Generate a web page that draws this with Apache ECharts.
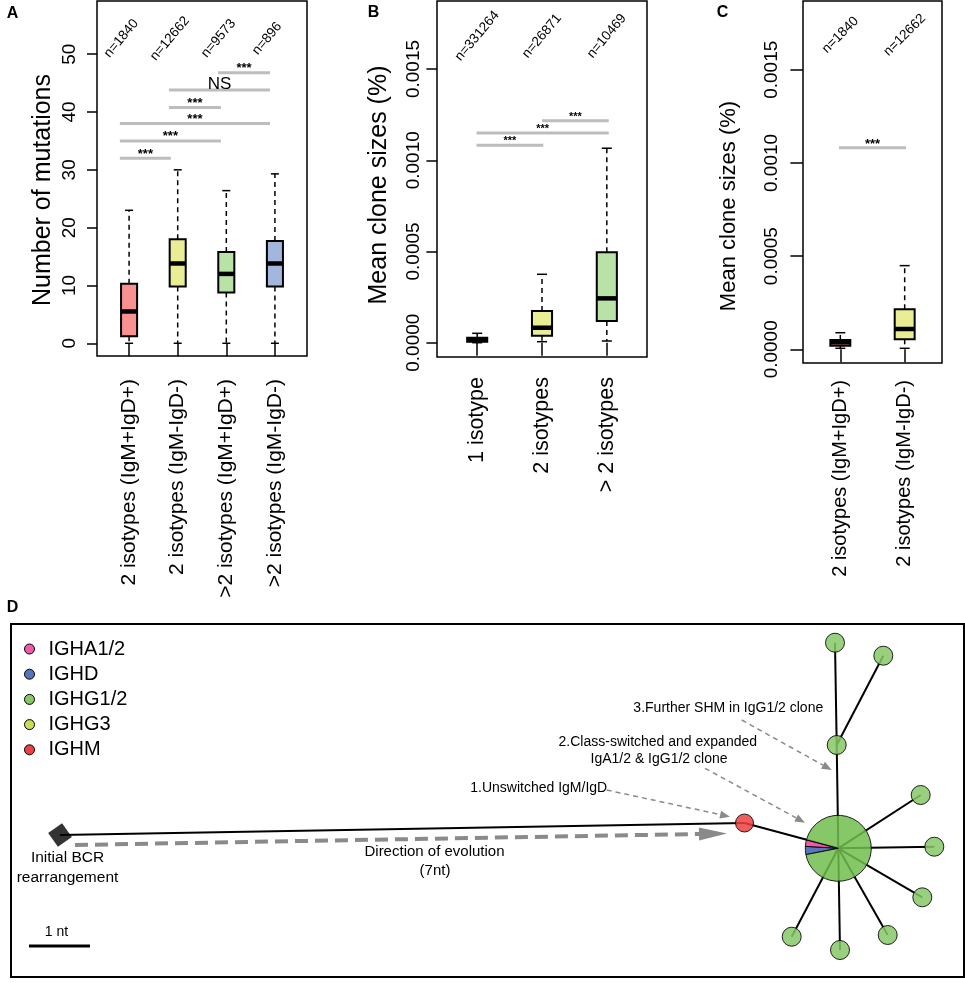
<!DOCTYPE html>
<html><head><meta charset="utf-8">
<script src="https://cdn.jsdelivr.net/npm/echarts@6/dist/echarts.min.js"></script>
<style>html,body{margin:0;padding:0;background:#fff}#c{width:965px;height:983px}</style>
</head><body><div id="c"></div>
<script>
// ---------------- Panel A: number of mutations ----------------
const catsA = ['2 isotypes (IgM+IgD+)', '2 isotypes (IgM-IgD-)', '>2 isotypes (IgM+IgD+)', '>2 isotypes (IgM-IgD-)'];
const nA = ['n=1840', 'n=12662', 'n=9573', 'n=896'];
const lowA = [0, 0, 0, 0];
const q1A = [1.2, 9.8, 8.8, 9.8];
const medA = [5.5, 13.8, 12.0, 13.8];
const q3A = [10.3, 18.0, 15.8, 17.7];
const highA = [23.0, 30.0, 26.4, 29.3];
const ticksA = [0, 10, 20, 30, 40, 50];
// significance bars: [from, to, y, label]
const sigA = [[0.81, 1.86, 32.0, '***'], [0.81, 2.89, 35.0, '***'], [0.81, 3.90, 38.0, '***'],
              [1.82, 2.89, 40.8, '***'], [1.82, 3.90, 43.8, 'NS'], [2.83, 3.90, 46.8, '***']];

// ---------------- Panel B: clone sizes by isotype count ----------------
const catsB = ['1 isotype', '2 isotypes', '> 2 isotypes'];
const nB = ['n=331264', 'n=26871', 'n=10469'];
const lowB = [0.0, 0.0000055, 0.0000093];
const q1B = [0.0000055, 0.0000384, 0.000119];
const medB = [0.000019, 0.000082, 0.000243];
const q3B = [0.0000274, 0.000174, 0.000496];
const highB = [0.0000515, 0.000375, 0.001066];
const ticksB = [0, 0.0005, 0.001, 0.0015];
const sigB = [[0.99, 2.02, 0.001082, '***'], [0.99, 3.03, 0.00115, '***'], [2.0, 3.03, 0.001217, '***']];

// ---------------- Panel C: clone sizes, 2 isotypes ----------------
const catsC = ['2 isotypes (IgM+IgD+)', '2 isotypes (IgM-IgD-)'];
const nC = ['n=1840', 'n=12662'];
const lowC = [0.0000054, 0.0000054];
const q1C = [0.0000193, 0.0000536];
const medC = [0.0000375, 0.000109];
const q3C = [0.00005, 0.000215];
const highC = [0.000089, 0.000449];
const ticksC = [0, 0.0005, 0.001, 0.0015];
const sigC = [[0.98, 2.02, 0.001082, '***']];

// ---------------- Panel D: clone lineage tree ----------------
const isoNames = ['IGHA1/2', 'IGHD', 'IGHG1/2', 'IGHG3', 'IGHM'];
const nodeX = [49, 733.5, 827.3, 825.7, 824, 872.3, 909.7, 923.3, 911.3, 876.7, 829, 780.7];
const nodeY = [211, 199, 224.3, 121, 18.7, 31.7, 171, 222.7, 273.3, 311, 326, 312.7];
const nodeIso = ['germline', 'IGHM', 'mixed', 'IGHG1/2', 'IGHG1/2', 'IGHG1/2', 'IGHG1/2', 'IGHG1/2', 'IGHG1/2', 'IGHG1/2', 'IGHG1/2', 'IGHG1/2'];
const nodeParent = [-1, 0, 1, 2, 3, 3, 2, 2, 2, 2, 2, 2];
const cloneIso = ['IGHD', 'IGHA1/2', 'IGHG1/2'];
const cloneShare = [0.04, 0.032, 0.928];

// ---------------- styling ----------------
const FONT = '"Liberation Sans", Arial, Helvetica, sans-serif';
const boxColA = ['#F79291', '#E9EE95', '#B9E3A6', '#A3B7DE'];
const boxColB = ['#F79291', '#E9EE95', '#B9E3A6'];
const boxColC = ['#F79291', '#E9EE95'];
const isoColors = {'IGHA1/2': '#EE5BA8', 'IGHD': '#5773BA', 'IGHG1/2': '#86C867', 'IGHG3': '#C8DC55', 'IGHM': '#EE4040'};
const cloneFill = {'IGHA1/2': '#EA3F9A', 'IGHD': '#3C5DB0', 'IGHG1/2': '#71BE4C'};

function boxRender(colors, boxW) {
  return function (params, api) {
    const x = api.value(0);
    const pLo = api.coord([x, api.value(1)]);
    const pQ1 = api.coord([x, api.value(2)]);
    const pMed = api.coord([x, api.value(3)]);
    const pQ3 = api.coord([x, api.value(4)]);
    const pHi = api.coord([x, api.value(5)]);
    const half = api.size([boxW, 0])[0] / 2;
    const cx = pMed[0], st = half / 2;
    const ls = {stroke: '#000', lineWidth: 1.5};
    return {type: 'group', children: [
      {type: 'line', shape: {x1: cx, y1: pQ3[1], x2: cx, y2: pHi[1]}, style: {stroke: '#000', lineWidth: 1.5, lineDash: [5, 4]}},
      {type: 'line', shape: {x1: cx, y1: pQ1[1], x2: cx, y2: pLo[1]}, style: {stroke: '#000', lineWidth: 1.5, lineDash: [5, 4]}},
      {type: 'line', shape: {x1: cx - st, y1: pHi[1], x2: cx + st, y2: pHi[1]}, style: ls},
      {type: 'line', shape: {x1: cx - st, y1: pLo[1], x2: cx + st, y2: pLo[1]}, style: ls},
      {type: 'rect', shape: {x: cx - half, y: pQ3[1], width: 2 * half, height: pQ1[1] - pQ3[1]}, style: {fill: colors[params.dataIndex], stroke: '#000', lineWidth: 2}},
      {type: 'line', shape: {x1: cx - half, y1: pMed[1], x2: cx + half, y2: pMed[1]}, style: {stroke: '#000', lineWidth: 4.5}}
    ]};
  };
}
function boxData(low, q1, med, q3, high) {
  return low.map((v, i) => [i + 1, low[i], q1[i], med[i], q3[i], high[i]]);
}
function sigRender(sig, cfg) {
  return function (params, api) {
    const s = sig[params.dataIndex];
    const a = api.coord([s[0], s[2]]), b = api.coord([s[1], s[2]]);
    const ns = s[3] === 'NS';
    return {type: 'group', children: [
      {type: 'line', shape: {x1: a[0], y1: a[1], x2: b[0], y2: b[1]}, style: {stroke: '#BDBDBD', lineWidth: 3}},
      {type: 'text', x: (a[0] + b[0]) / 2, y: a[1] - (ns ? 6 : cfg.dy), style: {text: s[3], fill: '#000', fontSize: ns ? 17 : cfg.fs, fontWeight: ns ? 'normal' : 'bold', fontFamily: FONT, align: 'center', verticalAlign: 'middle'}}
    ]};
  };
}
function nRender(labels, dx, yv, rot, fs) {
  return function (params, api) {
    const p = api.coord([params.dataIndex + 1 + dx, yv]);
    return {type: 'text', x: p[0], y: p[1], rotation: rot * Math.PI / 180,
      style: {text: labels[params.dataIndex], fill: '#000', fontSize: fs, fontFamily: FONT, align: 'center', verticalAlign: 'middle'}};
  };
}
function xAx(gi, min, max, cats, margin, tickLen, fs) {
  const cv = cats.map((c, i) => i + 1);
  return {gridIndex: gi, type: 'value', min: min, max: max, axisLine: {show: false}, splitLine: {show: false},
    axisTick: {show: true, customValues: cv, length: tickLen, lineStyle: {color: '#000', width: 1.5}},
    axisLabel: {show: true, customValues: cv, rotate: 90, margin: margin, color: '#000', fontSize: fs, fontFamily: FONT,
      formatter: v => cats[Math.round(v) - 1]}};
}
function yAx(gi, min, max, ticks, margin, tickLen, dec) {
  return {gridIndex: gi, type: 'value', min: min, max: max, axisLine: {show: false}, splitLine: {show: false},
    axisTick: {show: true, customValues: ticks, length: tickLen, lineStyle: {color: '#000', width: 1.5}},
    axisLabel: {show: true, customValues: ticks, rotate: 90, margin: margin, color: '#000', fontSize: 19, fontFamily: FONT,
      formatter: v => dec ? v.toFixed(dec) : String(v)}};
}

// Panel D helpers
const edgeIdx = nodeParent.map((p, i) => i).filter(i => nodeParent[i] >= 0);
const dLabels = [
  ['Initial BCR', 56.5, 234, 15.5], ['rearrangement', 56.5, 253.7, 15.5],
  ['Direction of evolution', 423.5, 227.7, 15], ['(7nt)', 424, 247, 15],
  ['1.Unswitched IgM/IgD', 527.7, 163.7, 14], ['2.Class-switched and expanded', 646.8, 117.7, 14],
  ['IgA1/2 & IgG1/2 clone', 648, 135, 14], ['3.Further SHM in IgG1/2 clone', 717.3, 84.3, 14],
  ['1 nt', 45.5, 307.7, 14]
];
const dArrows = [[64, 221, 716, 209.5, 1], [595.7, 166, 719, 192.7, 0], [694, 144.3, 794, 198.7, 0], [730.7, 96, 820.7, 146, 0]];
const scaleBar = [18, 79, 322];

const series = [
  // A
  {type: 'custom', xAxisIndex: 0, yAxisIndex: 0, renderItem: boxRender(boxColA, 0.33), data: boxData(lowA, q1A, medA, q3A, highA), z: 3},
  {type: 'custom', xAxisIndex: 0, yAxisIndex: 0, renderItem: sigRender(sigA, {fs: 13, dy: 4}), data: sigA.map(s => [s[0], s[2]]), z: 3},
  {type: 'custom', xAxisIndex: 0, yAxisIndex: 0, renderItem: nRender(nA, -0.16, 52.7, 50, 13.5), data: nA.map((n, i) => [i + 1, 52.7]), z: 3},
  // B
  {type: 'custom', xAxisIndex: 1, yAxisIndex: 1, renderItem: boxRender(boxColB, 0.31), data: boxData(lowB, q1B, medB, q3B, highB), z: 3},
  {type: 'custom', xAxisIndex: 1, yAxisIndex: 1, renderItem: sigRender(sigB, {fs: 11, dy: 4}), data: sigB.map(s => [s[0], s[2]]), z: 3},
  {type: 'custom', xAxisIndex: 1, yAxisIndex: 1, renderItem: nRender(nB, 0, 0.001681, 50, 13.5), data: nB.map((n, i) => [i + 1, 0.001681]), z: 3},
  // C
  {type: 'custom', xAxisIndex: 2, yAxisIndex: 2, renderItem: boxRender(boxColC, 0.31), data: boxData(lowC, q1C, medC, q3C, highC), z: 3},
  {type: 'custom', xAxisIndex: 2, yAxisIndex: 2, renderItem: sigRender(sigC, {fs: 13, dy: 3}), data: sigC.map(s => [s[0], s[2]]), z: 3},
  {type: 'custom', xAxisIndex: 2, yAxisIndex: 2, renderItem: nRender(nC, 0, 0.001686, 45, 13.5), data: nC.map((n, i) => [i + 1, 0.001686]), z: 3},
  // D edges
  {type: 'custom', xAxisIndex: 3, yAxisIndex: 3, z: 1, data: edgeIdx.map(i => [nodeX[i], nodeY[i]]),
    renderItem: function (params, api) {
      const i = edgeIdx[params.dataIndex], p = nodeParent[i];
      const a = api.coord([nodeX[p], nodeY[p]]), b = api.coord([nodeX[i], nodeY[i]]);
      return {type: 'line', shape: {x1: a[0], y1: a[1], x2: b[0], y2: b[1]}, style: {stroke: '#000', lineWidth: 2}};
    }},
  // D clone pie
  {type: 'custom', xAxisIndex: 3, yAxisIndex: 3, z: 2, data: [[nodeX[2], nodeY[2]]],
    renderItem: function (params, api) {
      const c = api.coord([api.value(0), api.value(1)]);
      const r = api.size([33, 0])[0];
      let ang = 169 * Math.PI / 180;
      const ch = cloneShare.map((s, k) => {
        const a0 = ang, a1 = ang + s * 2 * Math.PI; ang = a1;
        return {type: 'sector', shape: {cx: c[0], cy: c[1], r0: 0, r: r, startAngle: a0, endAngle: a1, clockwise: true},
          style: {fill: cloneFill[cloneIso[k]], stroke: '#000', lineWidth: 1, opacity: 0.85}};
      });
      return {type: 'group', children: ch};
    }},
  // D germline
  {type: 'scatter', name: 'germline', xAxisIndex: 3, yAxisIndex: 3, z: 3, symbol: 'rect', symbolSize: 17, symbolRotate: 35,
    itemStyle: {color: '#000'}, data: nodeIso.map((t, i) => t === 'germline' ? [nodeX[i], nodeY[i]] : null).filter(Boolean)},
  // D arrows
  {type: 'custom', xAxisIndex: 3, yAxisIndex: 3, z: 4, data: dArrows.map(a => [a[0], a[1]]),
    renderItem: function (params, api) {
      const d = dArrows[params.dataIndex];
      const a = api.coord([d[0], d[1]]), b = api.coord([d[2], d[3]]);
      const big = d[4] === 1;
      const hl = big ? 28 : 10, hw = big ? 6.5 : 4;
      const dx = b[0] - a[0], dy = b[1] - a[1], L = Math.hypot(dx, dy), ux = dx / L, uy = dy / L;
      const bx = b[0] - ux * hl, by = b[1] - uy * hl;
      return {type: 'group', children: [
        {type: 'line', shape: {x1: a[0], y1: a[1], x2: bx, y2: by}, style: {stroke: '#8A8A8A', lineWidth: big ? 4 : 1.5, lineDash: big ? [13, 7] : [5, 4]}},
        {type: 'polygon', shape: {points: [[b[0], b[1]], [bx - uy * hw, by + ux * hw], [bx + uy * hw, by - ux * hw]]}, style: {fill: '#8A8A8A'}}
      ]};
    }},
  // D labels
  {type: 'custom', xAxisIndex: 3, yAxisIndex: 3, z: 4, data: dLabels.map(l => [l[1], l[2]]),
    renderItem: function (params, api) {
      const l = dLabels[params.dataIndex];
      const p = api.coord([l[1], l[2]]);
      return {type: 'text', x: p[0], y: p[1], style: {text: l[0], fill: '#000', fontSize: l[3], fontFamily: FONT, align: 'center', verticalAlign: 'middle'}};
    }},
  // D scale bar
  {type: 'custom', xAxisIndex: 3, yAxisIndex: 3, z: 4, data: [[scaleBar[0], scaleBar[2]]],
    renderItem: function (params, api) {
      const a = api.coord([scaleBar[0], scaleBar[2]]), b = api.coord([scaleBar[1], scaleBar[2]]);
      return {type: 'line', shape: {x1: a[0], y1: a[1], x2: b[0], y2: b[1]}, style: {stroke: '#000', lineWidth: 3}};
    }}
];
// isotype node series (also drive the legend)
isoNames.forEach(name => {
  series.push({type: 'scatter', name: name, xAxisIndex: 3, yAxisIndex: 3, z: 5, symbol: 'circle', symbolSize: name === 'IGHM' ? 18 : 19,
    itemStyle: {color: isoColors[name], borderColor: '#000', borderWidth: 1, opacity: 0.85},
    data: nodeIso.map((t, i) => t === name ? [nodeX[i], nodeY[i]] : null).filter(Boolean)});
});

const titleTxt = (t, x, y, fs) => ({type: 'text', x: x, y: y, rotation: Math.PI / 2,
  style: {text: t, fill: '#000', fontSize: fs, fontFamily: FONT, align: 'center', verticalAlign: 'middle'}});
const letter = (t, x, y) => ({type: 'text', x: x, y: y,
  style: {text: t, fill: '#000', fontSize: 16, fontWeight: 'bold', fontFamily: FONT, align: 'center', verticalAlign: 'middle'}});

const option = {
  animation: false,
  backgroundColor: '#fff',
  grid: [
    {left: 97, top: 1, width: 210, height: 355, show: true, borderColor: '#000', borderWidth: 1.5, backgroundColor: 'transparent'},
    {left: 437, top: 1, width: 210, height: 356, show: true, borderColor: '#000', borderWidth: 1.5, backgroundColor: 'transparent'},
    {left: 803, top: 1, width: 139, height: 362, show: true, borderColor: '#000', borderWidth: 1.5, backgroundColor: 'transparent'},
    {left: 11, top: 624, width: 953, height: 353, show: true, borderColor: '#000', borderWidth: 2, backgroundColor: 'transparent'}
  ],
  xAxis: [
    xAx(0, 0.34, 4.66, catsA, 23, 13, 21),
    xAx(1, 0.38, 3.62, catsB, 20, 13, 21.5),
    xAx(2, 0.42, 2.58, catsC, 17, 13, 20),
    {gridIndex: 3, type: 'value', min: 0, max: 953, show: false}
  ],
  yAxis: [
    yAx(0, -2.2, 59.2, ticksA, 18, 10, 0),
    yAx(1, -0.0000784, 0.001873, ticksB, 14, 10.6, 4),
    yAx(2, -0.0000735, 0.001869, ticksC, 22, 12.6, 4),
    {gridIndex: 3, type: 'value', min: 0, max: 353, inverse: true, show: false}
  ],
  legend: {data: isoNames, orient: 'vertical', left: 24, top: 639, padding: 0, itemWidth: 10, itemHeight: 10, itemGap: 5.2,
    icon: 'circle', selectedMode: false, itemStyle: {borderColor: '#000', borderWidth: 1, opacity: 1},
    textStyle: {fontSize: 20, fontFamily: FONT, color: '#000', padding: [0, 0, 0, 9], lineHeight: 20}},
  graphic: [
    titleTxt('Number of mutations', 43, 190, 25),
    titleTxt('Mean clone sizes (%)', 379, 185, 25),
    titleTxt('Mean clone sizes (%)', 729, 206, 22),
    letter('A', 12.5, 14), letter('B', 373.5, 13), letter('C', 722.5, 13), letter('D', 12.5, 607.5)
  ],
  series: series
};
const chart = echarts.init(document.getElementById('c'), null, {renderer: 'canvas'});
chart.setOption(option);
</script></body></html>
